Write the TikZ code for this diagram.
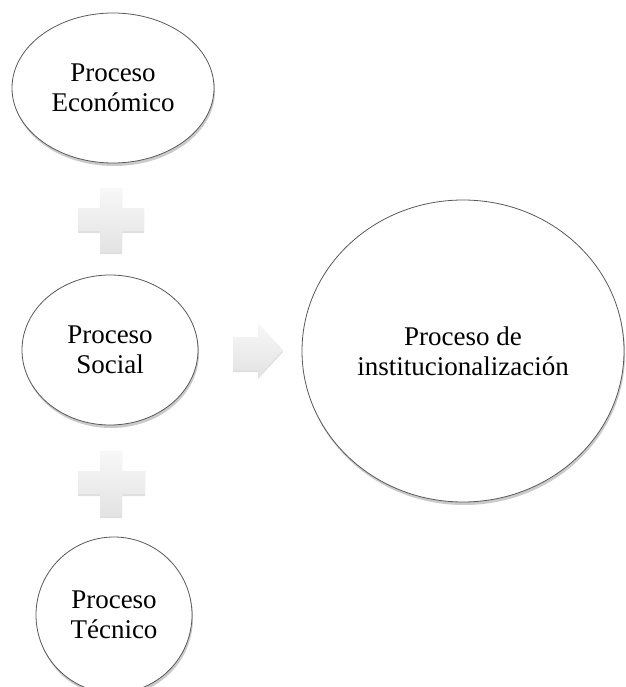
\documentclass[tikz,border=0pt]{standalone}
\usepackage{fontspec}
\setmainfont{Liberation Serif}
\usetikzlibrary{shapes.geometric,shadows}
\tikzset{
  proc/.style={ellipse, draw=black!65, line width=0.8pt, fill=white, inner sep=0pt,
    align=center, font=\fontsize{27}{30}\selectfont,
    drop shadow={shadow xshift=1pt, shadow yshift=-3pt, opacity=0.35, fill=black!60}},
  glyph/.style={draw=none, top color=gray!6, bottom color=gray!22,
    drop shadow={shadow xshift=0pt, shadow yshift=-2pt, opacity=0.25, fill=black!50}}
}
\begin{document}
\begin{tikzpicture}[x=1pt,y=-1pt]
\useasboundingbox (0,0) rectangle (625,687);
% ellipses
\node[proc, minimum width=202pt, minimum height=150pt] (eco) at (113,88) {Proceso\\Económico};
\node[proc, minimum width=176pt, minimum height=150pt] (soc) at (110,350) {Proceso\\Social};
\node[proc, minimum width=156pt, minimum height=156pt] (tec) at (114,615) {Proceso\\Técnico};
\node[proc, minimum width=322pt, minimum height=302pt] (inst) at (463,351) {Proceso de\\institucionalización};
% plus signs
\path[glyph] (100,188) -- (122,188) -- (122,208) -- (144,208) -- (144,231) -- (122,231) -- (122,252) -- (100,252) -- (100,231) -- (78,231) -- (78,208) -- (100,208) -- cycle;
\path[glyph] (100,451) -- (122,451) -- (122,471) -- (145,471) -- (145,494) -- (122,494) -- (122,516) -- (100,516) -- (100,494) -- (78,494) -- (78,471) -- (100,471) -- cycle;
% arrow
\path[glyph] (233,337) -- (258,337) -- (258,323) -- (283,350) -- (258,377) -- (258,370) -- (233,370) -- cycle;
\end{tikzpicture}
\end{document}
